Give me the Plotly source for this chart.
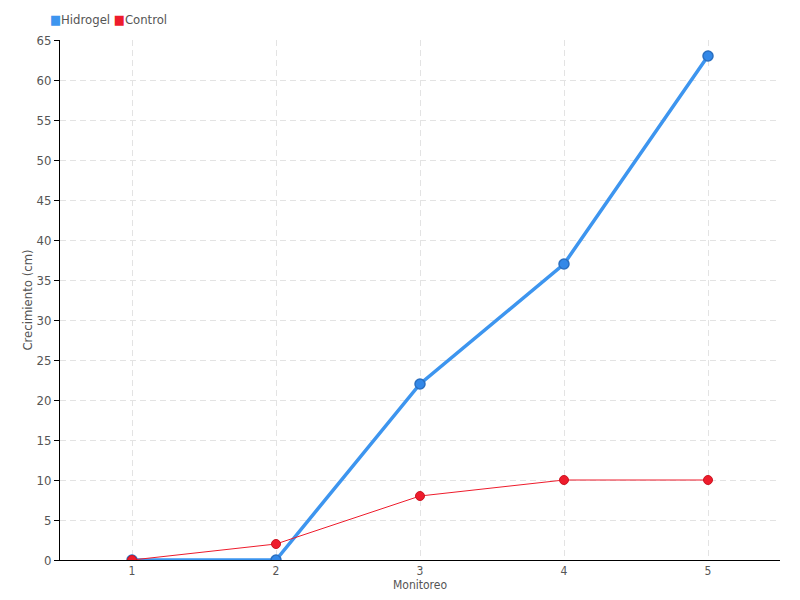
import plotly.graph_objects as go

monitoreo = [1, 2, 3, 4, 5]
hidrogel = [0, 0, 22, 37, 63]
control = [0, 2, 8, 10, 10]

FONT = "DejaVu Sans Condensed, Roboto, sans-serif"
BLUE = "#3d95ef"
RED = "#ee1c2c"

fig = go.Figure()

fig.add_trace(go.Scatter(
    x=monitoreo, y=hidrogel, name="Hidrogel", mode="lines+markers",
    line=dict(color=BLUE, width=3.5),
    marker=dict(size=10, color="#3388e8", line=dict(color="#2a6fc0", width=1.5))
))
fig.add_trace(go.Scatter(
    x=monitoreo, y=control, name="Control", mode="lines+markers",
    line=dict(color=RED, width=1),
    marker=dict(size=9, color=RED, line=dict(color="#cc1622", width=1))
))

# compact legend like the original (square swatch + label)
fig.add_annotation(
    xref="paper", yref="paper", x=-0.016, y=1.022, xanchor="left", yanchor="bottom",
    showarrow=False, font=dict(size=13, color="#555555"),
    text=(f'<span style="color:{BLUE}">■</span>Hidrogel '
          f'<span style="color:{RED}">■</span>Control')
)

# page body has an 8px margin, so the figure is a bit smaller than the window
fig.update_layout(
    width=784, height=584,
    paper_bgcolor="white", plot_bgcolor="white",
    margin=dict(l=52, r=12, t=32, b=32, autoexpand=False),
    font=dict(family=FONT, size=13, color="#555555"),
    showlegend=False,
)

fig.update_xaxes(
    range=[0.5, 5.5], tickvals=monitoreo, ticks="", showline=True, linecolor="black",
    linewidth=1, showgrid=True, gridcolor="#e3e3e3", griddash="6px,4px", zeroline=False,
    ticklabelstandoff=0,
    title=dict(text="Monitoreo", standoff=2, font=dict(size=12)),
    tickfont=dict(size=12)
)
fig.update_yaxes(
    range=[0, 65], dtick=5, ticks="outside", ticklen=5, tickcolor="black",
    showline=True, linecolor="black", linewidth=1, showgrid=True,
    gridcolor="#e3e3e3", griddash="6px,4px", zeroline=False,
    title=dict(text="Crecimiento (cm)", standoff=0, font=dict(size=13)),
    tickfont=dict(size=13)
)

fig.write_html("out.html")
